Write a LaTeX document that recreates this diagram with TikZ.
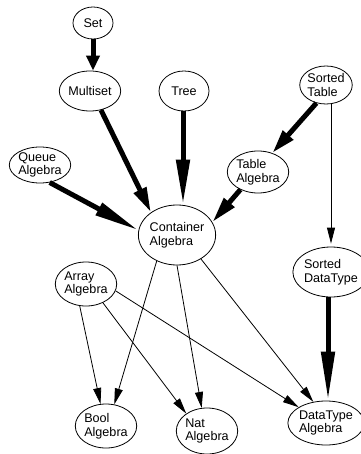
\documentclass[tikz,border=0pt]{standalone}
\usepackage{fontspec}
\setmainfont{Liberation Sans}
\usetikzlibrary{shapes.geometric,arrows.meta}
\tikzset{
  obj/.style={ellipse, draw, line width=0.8pt, inner sep=0pt, align=left,
    font=\fontsize{12.6}{13.8}\selectfont},
  thin/.style={line width=0.8pt, -{Triangle[length=16pt,width=8pt]}},
  thick/.style={line width=5pt, -{Triangle[length=#1,width=13pt]}},
}
\begin{document}
\begin{tikzpicture}[x=1pt,y=-1pt]
\useasboundingbox (0,0) rectangle (360,454);
\node[obj, minimum width=40pt, minimum height=32pt] (set) at (93,23) {Set};
\node[obj, minimum width=50pt, minimum height=40pt] (multiset) at (90,91) {Multiset};
\node[obj, minimum width=50pt, minimum height=40pt] (tree) at (184,91) {Tree};
\node[obj, minimum width=48pt, minimum height=38pt] (st) at (326,85) {Sorted\\Table};
\node[obj, minimum width=54pt, minimum height=36pt] (queue) at (40,165) {Queue\\Algebra};
\node[obj, minimum width=52pt, minimum height=42pt] (ta) at (258,172) {Table\\Algebra};
\node[obj, minimum width=72pt, minimum height=60pt] (ca) at (177,235) {Container\\Algebra};
\node[obj, minimum width=58pt, minimum height=50pt] (sdt) at (331,272) {Sorted\\DataType};
\node[obj, minimum width=58pt, minimum height=44pt] (aa) at (86,284) {Array\\Algebra};
\node[obj, minimum width=60pt, minimum height=44pt] (ba) at (106,426) {Bool\\Algebra};
\node[obj, minimum width=58pt, minimum height=46pt] (na) at (207,431) {Nat\\Algebra};
\node[obj, minimum width=66pt, minimum height=44pt] (dta) at (326,423) {DataType\\Algebra};

% thick arrows
\draw[thick=15pt] (set.south) -- (set.south |- multiset.north);
\draw[thick=25pt] (multiset.300) -- (ca.139);
\draw[thick=45pt] ([xshift=-1pt]tree.south) -- ([xshift=-1pt]tree.south |- ca.north);
\draw[thick=45pt] (queue.299) -- (ca.173);
\draw[thick=26pt] (ta.225) -- (ca.20);
\draw[thick=24pt] (st.242) -- (ta.53);
\draw[thick=49pt] ([xshift=2pt]dta.north |- sdt.south) -- ([xshift=2pt]dta.north);

% thin arrows
\draw[thin, shorten >=3pt] (sdt.north |- st.south) -- (sdt.north);
\draw[thin] (ca.232) -- (ba.69);
\draw[thin] (aa.254) -- (ba.104);
\draw[thin] (aa.312) -- (na.140);
\draw[thin] (ca.270) -- (na.103);
\draw[thin] (ca.315) -- (dta.121);
\draw[thin] (aa.347) -- (dta.150);
\end{tikzpicture}
\end{document}
